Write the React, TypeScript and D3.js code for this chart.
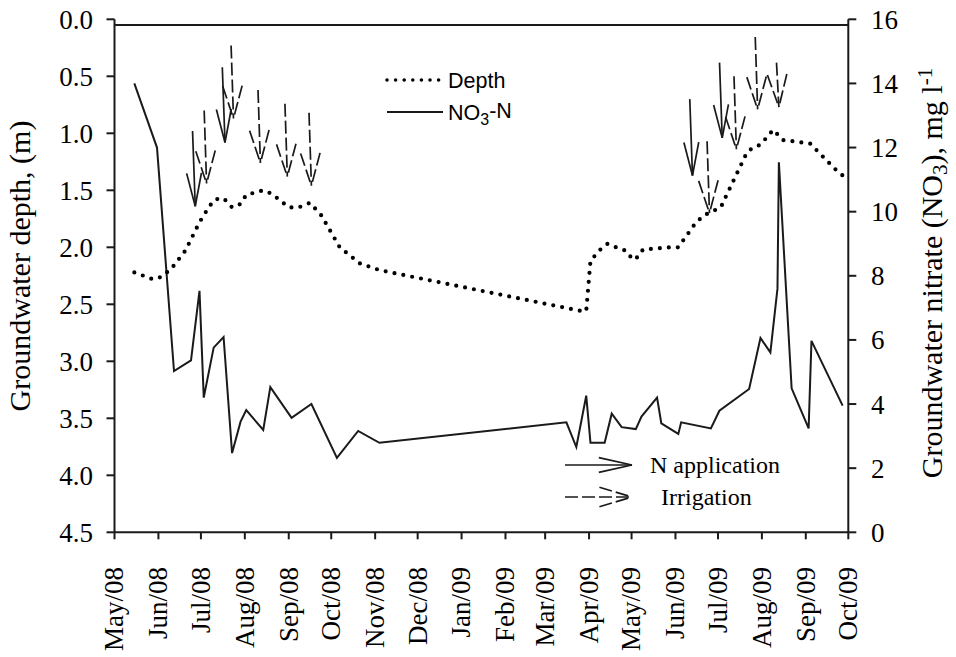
import React from "react";
import * as d3 from "d3";

// ---------- data ----------
const monthTicks = [
  "2008-05-01", "2008-06-01", "2008-07-01", "2008-08-01", "2008-09-01", "2008-10-01",
  "2008-11-01", "2008-12-01", "2009-01-01", "2009-02-01", "2009-03-01", "2009-04-01",
  "2009-05-01", "2009-06-01", "2009-07-01", "2009-08-01", "2009-09-01", "2009-10-01",
];
const monthLabels = [
  "May/08", "Jun/08", "Jul/08", "Aug/08", "Sep/08", "Oct/08", "Nov/08", "Dec/08", "Jan/09",
  "Feb/09", "Mar/09", "Apr/09", "May/09", "Jun/09", "Jul/09", "Aug/09", "Sep/09", "Oct/09",
];
const depthTicks = [0, 0.5, 1, 1.5, 2, 2.5, 3, 3.5, 4, 4.5];
const nitrateTicks = [0, 2, 4, 6, 8, 10, 12, 14, 16];

const depthDates = [
  "2008-05-15", "2008-05-28", "2008-06-03", "2008-06-10", "2008-06-20", "2008-06-30",
  "2008-07-07", "2008-07-11", "2008-07-17", "2008-07-23", "2008-07-29", "2008-08-02",
  "2008-08-14", "2008-08-20", "2008-09-01", "2008-09-08", "2008-09-16", "2008-09-24",
  "2008-10-07", "2008-10-21", "2008-11-04", "2009-03-27", "2009-03-30", "2009-04-02",
  "2009-04-08", "2009-04-14", "2009-04-20", "2009-04-27", "2009-05-02", "2009-05-06",
  "2009-05-09", "2009-05-28", "2009-06-03", "2009-06-15", "2009-06-21", "2009-07-03",
  "2009-07-06", "2009-07-21", "2009-07-25", "2009-07-31", "2009-08-09", "2009-08-16",
  "2009-08-23", "2009-09-04", "2009-09-23", "2009-09-27",
];
const depthValues = [
  2.22, 2.28, 2.26, 2.19, 2.03, 1.78,
  1.64, 1.58, 1.57, 1.65, 1.62, 1.54,
  1.50, 1.53, 1.65, 1.65, 1.61, 1.72,
  2.0, 2.14, 2.2, 2.56, 2.56, 2.12,
  2.03, 1.97, 2.0, 2.03, 2.11, 2.08,
  2.02, 2.0, 2.0, 1.79, 1.72, 1.65,
  1.57, 1.18, 1.13, 1.10, 0.97, 1.06,
  1.07, 1.09, 1.33, 1.37,
];

const nitrateDates = [
  "2008-05-15", "2008-05-31", "2008-06-12", "2008-06-24", "2008-06-30", "2008-07-03",
  "2008-07-10", "2008-07-17", "2008-07-23", "2008-07-29", "2008-08-02", "2008-08-14",
  "2008-08-19", "2008-09-03", "2008-09-17", "2008-10-05", "2008-10-20", "2008-11-04",
  "2009-03-16", "2009-03-23", "2009-03-30", "2009-04-02", "2009-04-12", "2009-04-17",
  "2009-04-24", "2009-05-04", "2009-05-08", "2009-05-19", "2009-05-22", "2009-06-03",
  "2009-06-05", "2009-06-26", "2009-07-02", "2009-07-23", "2009-07-31", "2009-08-07",
  "2009-08-12", "2009-08-13", "2009-08-22", "2009-09-03", "2009-09-05", "2009-09-27",
];
const nitrateValues = [
  14.0, 12.0, 5.03, 5.36, 7.53, 4.2,
  5.76, 6.09, 2.47, 3.45, 3.81, 3.19,
  4.53, 3.57, 4.0, 2.32, 3.16, 2.79,
  3.43, 2.66, 4.26, 2.79, 2.79, 3.7,
  3.28, 3.22, 3.61, 4.2, 3.4, 3.07,
  3.43, 3.24, 3.79, 4.47, 6.06, 5.61,
  7.6, 11.54, 4.49, 3.24, 5.97, 3.95,
];

// event arrows (date of arrow tip; top & tip given in depth-axis units)
const nApplicationDates = ["2008-06-27", "2008-07-18", "2009-06-13", "2009-07-04"];
const nApplicationTop = [0.98, 0.42, 0.7, 0.38];
const nApplicationTip = [1.64, 1.08, 1.37, 1.04];
const irrigationDates = [
  "2008-07-05", "2008-07-24", "2008-08-12", "2008-08-31", "2008-09-17",
  "2009-06-25", "2009-07-14", "2009-07-29", "2009-08-13",
];
const irrigationTop = [0.8, 0.23, 0.62, 0.74, 0.82, 1.07, 0.5, 0.155, 0.38];
const irrigationTip = [1.44, 0.87, 1.26, 1.38, 1.46, 1.7, 1.14, 0.79, 0.77];

// ---------- layout ----------
const W = 956;
const H = 657;
const X0 = 114.5;
const X1 = 848.3;
const Y0 = 19.3;
const Y1 = 532.3;
const INK = "#1a1a1a";
const SERIF = '"Liberation Serif", "Times New Roman", Times, serif';
const SANS = '"Liberation Sans", Arial, Helvetica, sans-serif';
const FS = 27;
const TFS = 30;

const parse = d3.timeParse("%Y-%m-%d");

const x = d3.scaleTime().domain([parse("2008-05-01")!, parse("2009-10-01")!]).range([X0, X1]);
const yDepth = d3.scaleLinear().domain([0, 4.5]).range([Y0, Y1]);
const yNit = d3.scaleLinear().domain([0, 16]).range([Y1, Y0]);

const serifStyle = { fontFamily: SERIF };
const sansStyle = { fontFamily: SANS };

function arrowPaths(x1: number, y1: number, x2: number, y2: number, len: number, ang: number) {
  const a = Math.atan2(y2 - y1, x2 - x1);
  const w1x = x2 - len * Math.cos(a - ang);
  const w1y = y2 - len * Math.sin(a - ang);
  const w2x = x2 - len * Math.cos(a + ang);
  const w2y = y2 - len * Math.sin(a + ang);
  return [
    `M${x1},${y1}L${x2},${y2}`,
    `M${w1x},${w1y}L${x2},${y2}`,
    `M${w2x},${w2y}L${x2},${y2}`,
  ];
}

function Arrow(props: { x1: number; y1: number; x2: number; y2: number; dashed?: boolean }) {
  const { x1, y1, x2, y2, dashed } = props;
  const paths = arrowPaths(x1, y1, x2, y2, 34, dashed ? 0.29 : 0.22);
  return (
    <g stroke={INK} strokeWidth={1.7} fill="none" strokeDasharray={dashed ? "13 4" : undefined}>
      {paths.map((d, i) => (
        <path key={i} d={d} />
      ))}
    </g>
  );
}

export default function App() {
  const depthPts = depthDates.map((d, i) => [x(parse(d)!), yDepth(depthValues[i])] as [number, number]);
  const nitPts = nitrateDates.map((d, i) => [x(parse(d)!), yNit(nitrateValues[i])] as [number, number]);
  const line = d3.line<[number, number]>();

  return (
    <svg width={W} height={H} style={{ position: "absolute", left: 0, top: 0, background: "#fff", fontFamily: SERIF }}>
      <rect x={0} y={0} width={W} height={H} fill="#fff" />

      {/* top frame line */}
      <line x1={X0} x2={X1} y1={25} y2={25} stroke={INK} strokeWidth={2} />

      {/* x axis */}
      <line x1={X0} x2={X1} y1={Y1} y2={Y1} stroke={INK} strokeWidth={2} />
      {monthTicks.map((m, i) => {
        const xx = x(parse(m)!);
        return (
          <g key={m}>
            <line x1={xx} x2={xx} y1={Y1} y2={Y1 + 7} stroke={INK} strokeWidth={2} />
            <text
              transform={`translate(${xx},567) rotate(-90)`}
              textAnchor="end"
              dy="0.33em"
              style={serifStyle}
              fontSize={FS}
              fill="#000"
            >
              {monthLabels[i]}
            </text>
          </g>
        );
      })}

      {/* left axis */}
      <line x1={X0} x2={X0} y1={Y0} y2={Y1} stroke={INK} strokeWidth={2} />
      {depthTicks.map((t) => (
        <g key={t}>
          <line x1={X0 - 8} x2={X0} y1={yDepth(t)} y2={yDepth(t)} stroke={INK} strokeWidth={2} />
          <text x={93} y={yDepth(t)} dy="0.35em" textAnchor="end" style={serifStyle} fontSize={FS} fill="#000">
            {t.toFixed(1)}
          </text>
        </g>
      ))}

      {/* right axis */}
      <line x1={X1} x2={X1} y1={Y0} y2={Y1} stroke={INK} strokeWidth={2} />
      {nitrateTicks.map((t) => (
        <g key={t}>
          <line x1={X1} x2={X1 + 8} y1={yNit(t)} y2={yNit(t)} stroke={INK} strokeWidth={2} />
          <text x={871} y={yNit(t)} dy="0.35em" textAnchor="start" style={serifStyle} fontSize={FS} fill="#000">
            {t}
          </text>
        </g>
      ))}

      {/* axis titles */}
      <text
        transform="translate(19,266) rotate(-90)"
        textAnchor="middle"
        dy="0.35em"
        style={serifStyle}
        fontSize={TFS}
        fill="#000"
      >
        Groundwater depth, (m)
      </text>
      <text
        transform="translate(931,273) rotate(-90)"
        textAnchor="middle"
        dy="0.35em"
        style={serifStyle}
        fontSize={TFS}
        fill="#000"
      >
        Groundwater nitrate (NO
        <tspan fontSize={TFS * 0.7} dy="0.25em">3</tspan>
        <tspan dy="-0.175em">), mg l</tspan>
        <tspan fontSize={TFS * 0.7} dy="-0.45em">-1</tspan>
      </text>

      {/* nitrate line */}
      <path d={line(nitPts) || ""} fill="none" stroke={INK} strokeWidth={2} strokeLinejoin="miter" />

      {/* depth dotted line */}
      <path
        d={line(depthPts) || ""}
        fill="none"
        stroke="#000"
        strokeWidth={4.2}
        strokeLinecap="round"
        strokeDasharray="0 9"
      />

      {/* arrows */}
      {nApplicationDates.map((d, i) => {
        const xt = x(parse(d)!);
        return (
          <Arrow key={"n" + i} x1={xt - 2.7} y1={yDepth(nApplicationTop[i])} x2={xt} y2={yDepth(nApplicationTip[i])} />
        );
      })}
      {irrigationDates.map((d, i) => {
        const xt = x(parse(d)!);
        return (
          <Arrow
            key={"i" + i}
            dashed
            x1={xt - 2.4}
            y1={yDepth(irrigationTop[i])}
            x2={xt}
            y2={yDepth(irrigationTip[i])}
          />
        );
      })}

      {/* top legend */}
      <line
        x1={387}
        x2={440}
        y1={80}
        y2={80}
        stroke="#000"
        strokeWidth={3.6}
        strokeLinecap="round"
        strokeDasharray="0 8.6"
      />
      <text x={448} y={80} dy="0.36em" style={sansStyle} fontSize={21.5} fill="#000">
        Depth
      </text>
      <line x1={387} x2={443} y1={112} y2={112} stroke={INK} strokeWidth={2} />
      <text x={448} y={112} dy="0.36em" style={sansStyle} fontSize={21.5} fill="#000">
        NO<tspan fontSize={16} dy="0.3em">3</tspan>
        <tspan dy="-0.3em">-N</tspan>
      </text>

      {/* bottom legend */}
      <Arrow x1={565} y1={465} x2={632} y2={465} />
      <text x={650} y={465} dy="0.35em" style={serifStyle} fontSize={24} fill="#000">
        N application
      </text>
      <Arrow dashed x1={565} y1={497} x2={632} y2={497} />
      <text x={661} y={497} dy="0.35em" style={serifStyle} fontSize={24} fill="#000">
        Irrigation
      </text>
    </svg>
  );
}
